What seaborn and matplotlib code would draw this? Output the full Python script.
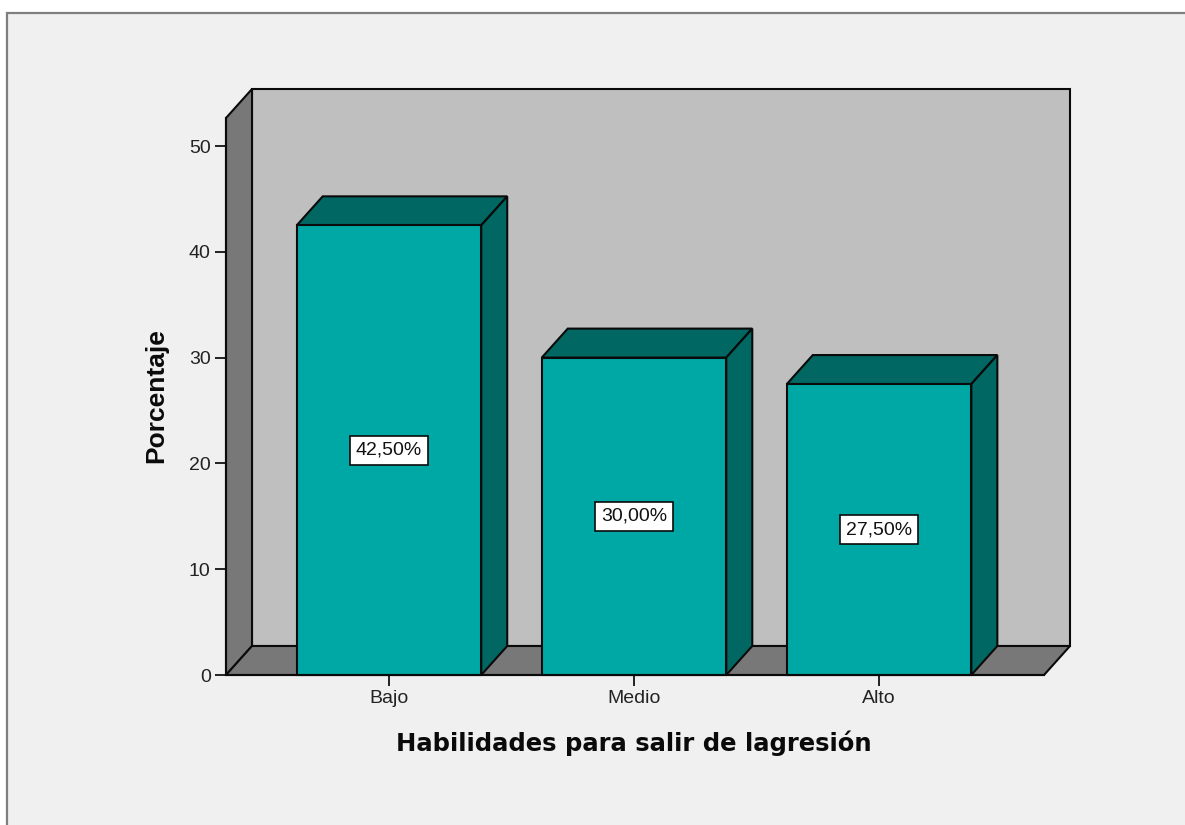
import matplotlib
matplotlib.use("Agg")
import matplotlib.pyplot as plt
from matplotlib.patches import Polygon, Rectangle
import pandas as pd
import seaborn as sns

categories = ["Bajo", "Medio", "Alto"]
percentages = [42.5, 30.0, 27.5]
value_labels = ["42,50%", "30,00%", "27,50%"]
y_ticks = [0, 10, 20, 30, 40, 50]
x_title = "Habilidades para salir de lagresión"
y_title = "Porcentaje"

W, H = 1185, 825
FRONT = "#00A8A5"
DARK = "#006762"
WALL = "#BFBFBF"
SIDE = "#787878"
PANEL = "#F0F0F0"
EDGE = "#0A0A0A"
LW = 1.5

sns.set_theme(style="white", rc={"font.family": ["Liberation Sans", "DejaVu Sans"]})
fig = plt.figure(figsize=(W / 100, H / 100), dpi=100, facecolor="white")
fig.add_artist(Rectangle((7 / W, -0.05), 1.1, 1.05 - 13 / H, transform=fig.transFigure,
                         facecolor=PANEL, edgecolor="#7F7F7F", linewidth=1.6, zorder=-5))

ax = fig.add_axes([226 / W, (H - 675) / H, 818 / W, 557 / H])
ax.patch.set_alpha(0)

df = pd.DataFrame({"cat": categories, "pct": percentages})
sns.barplot(data=df, x="cat", y="pct", order=categories, color=FRONT, saturation=1,
            width=0.753, edgecolor=EDGE, linewidth=LW, ax=ax, zorder=4)

ax.set_xlim(-0.665, 2.673)
ax.set_ylim(0, 557 / 10.58)
x0, x1 = ax.get_xlim()
y0, y1 = ax.get_ylim()
dx = 26 * (x1 - x0) / 818
dy = 29 * (y1 - y0) / 557


def face(points, color, z):
    ax.add_patch(Polygon(points, closed=True, facecolor=color, edgecolor=EDGE,
                         linewidth=LW, joinstyle="miter", clip_on=False, zorder=z))


bars = list(ax.patches[:len(categories)])

face([(x0 + dx, y0 + dy), (x1 + dx, y0 + dy), (x1 + dx, y1 + dy), (x0 + dx, y1 + dy)], WALL, 1)
face([(x0, y0), (x0 + dx, y0 + dy), (x0 + dx, y1 + dy), (x0, y1)], SIDE, 1.5)
face([(x0, y0), (x1, y0), (x1 + dx, y0 + dy), (x0 + dx, y0 + dy)], SIDE, 1.5)

for bar, label in zip(bars, value_labels):
    left, right = bar.get_x(), bar.get_x() + bar.get_width()
    top = bar.get_height()
    bar.set_clip_on(False)
    face([(left, top), (right, top), (right + dx, top + dy), (left + dx, top + dy)], DARK, 3)
    face([(right, 0), (right + dx, dy), (right + dx, top + dy), (right, top)], DARK, 3)
    ax.text((left + right) / 2, top / 2, label, ha="center", va="center", fontsize=14,
            color="#111111", zorder=6,
            bbox=dict(boxstyle="square,pad=0.3", facecolor="white", edgecolor=EDGE, linewidth=1.2))

ax.set_yticks(y_ticks)
ax.set_xticks(range(len(categories)))
ax.set_xticklabels(categories)
ax.tick_params(axis="both", length=8, width=1.4, color="#222222", labelsize=14,
               labelcolor="#222222", left=True, bottom=True, pad=3)
for name, spine in ax.spines.items():
    spine.set_visible(name in ("left", "bottom"))
    spine.set_color(EDGE)
    spine.set_linewidth(LW)
    spine.set_zorder(5)

ax.set_xlabel("")
ax.set_ylabel("")
fig.text(634 / W, 1 - 743 / H, x_title, ha="center", va="center", fontsize=17.5,
         fontweight="bold", family="DejaVu Sans", color="#0A0A0A")
fig.text(156 / W, 1 - 396 / H, y_title, ha="center", va="center", rotation=90,
         fontsize=19, fontweight="bold", color="#0A0A0A")

fig.savefig("out.png", dpi=100, facecolor="white")
